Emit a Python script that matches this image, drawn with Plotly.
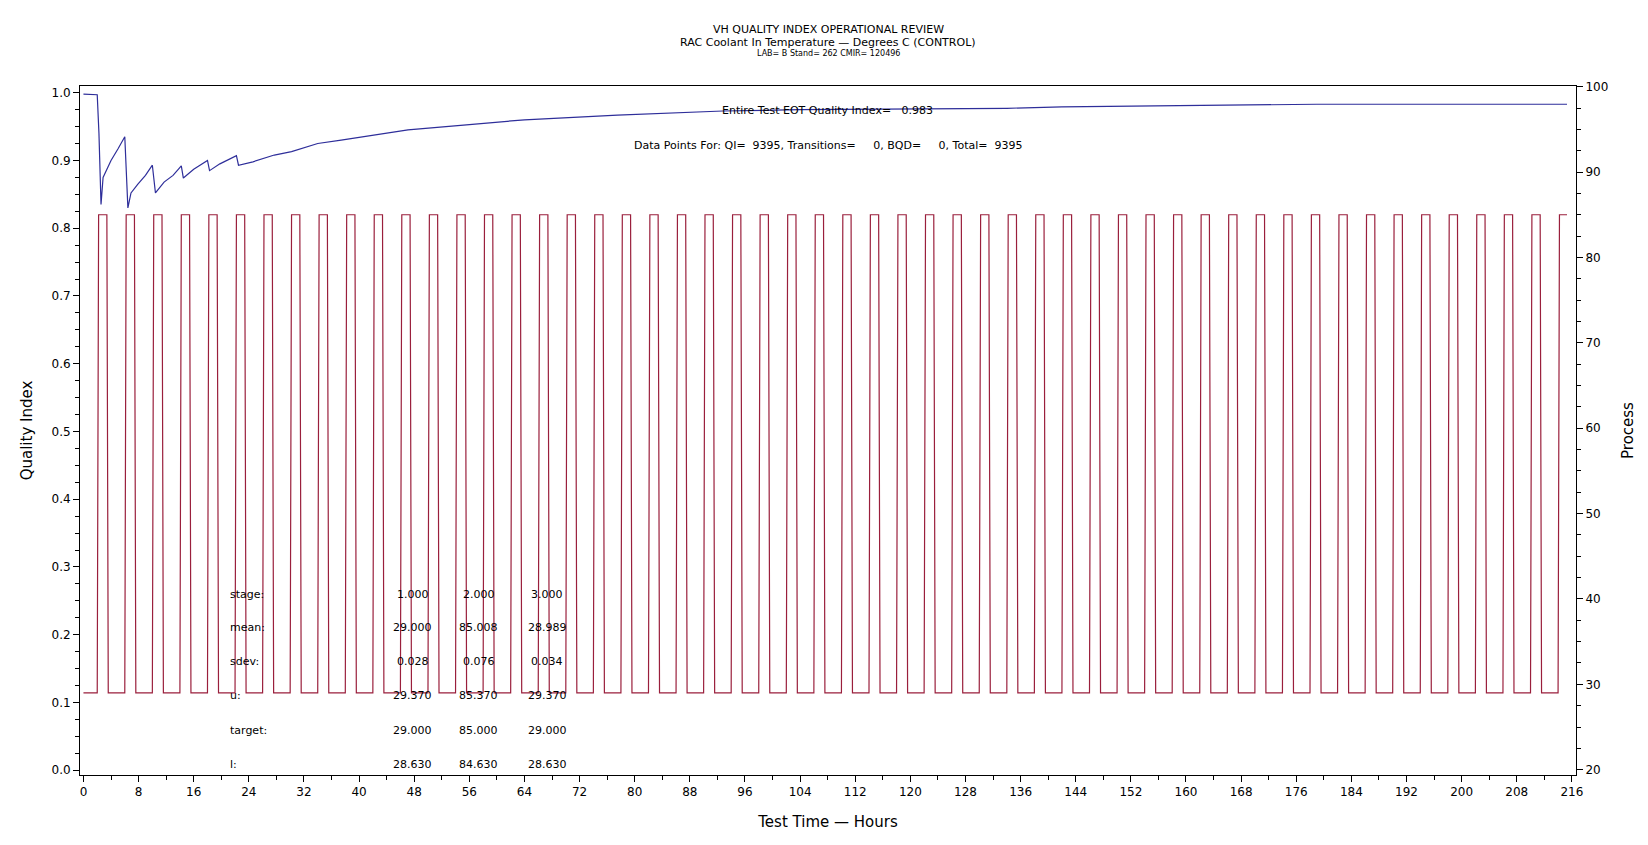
import plotly.graph_objects as go

# quality index curve (hours, QI)
qi_hours = [0.0, 0.45, 2.0, 2.25, 2.55, 2.85, 3.4, 4.0, 5.0, 6.0, 6.45, 6.9, 7.9, 9.0, 10.0,
            10.45, 11.7, 13.0, 14.2, 14.5, 16.0, 18.0, 18.3, 19.8, 22.2, 22.5, 24.6,
            27.7, 30.2, 34.0, 37.4, 42.3, 47.1, 56.0, 64.0, 77.5, 92.8, 104.0, 120.0,
            134.0, 142.0, 151.0, 164.0, 179.0, 195.0, 215.3]
qi_values = [0.998, 0.998, 0.997, 0.94, 0.835, 0.875, 0.888, 0.90, 0.917, 0.935, 0.83,
             0.852, 0.865, 0.878, 0.893, 0.852, 0.868, 0.878, 0.892, 0.874, 0.887, 0.900,
             0.885, 0.895, 0.907, 0.893, 0.898, 0.908, 0.913, 0.925, 0.930, 0.938, 0.945,
             0.953, 0.960, 0.967, 0.973, 0.975, 0.976, 0.977, 0.979, 0.980, 0.982, 0.983,
             0.983, 0.983]

# process (coolant temperature): stage-2 pulse start times, levels
pulse_starts = [2, 6, 10, 14, 18, 22, 26, 30, 34, 38, 42, 46, 50, 54, 58, 62, 66, 70,
                74, 78, 82, 86, 90, 94, 98, 102, 106, 110, 114, 118, 122, 126, 130, 134,
                138, 142, 146, 150, 154, 158, 162, 166, 170, 174, 178, 182, 186, 190,
                194, 198, 202, 206, 210, 214]
low_level = 29.0
high_level = 85.0
ramp = 0.2
hold = 1.2
test_end = 215.3

stage_rows = ["stage:", "mean:", "sdev:", "u:", "target:", "l:"]
stage_cols = [["1.000", "29.000", "0.028", "29.370", "29.000", "28.630"],
              ["2.000", "85.008", "0.076", "85.370", "85.000", "84.630"],
              ["3.000", "28.989", "0.034", "29.370", "29.000", "28.630"]]

px, py = [0.0], [low_level]
for s in pulse_starts:
    pts = [(s, low_level), (s + ramp, high_level), (s + ramp + hold, high_level),
           (s + 2 * ramp + hold, low_level)]
    for x, y in pts:
        if x <= test_end:
            px.append(x)
            py.append(y)
if px[-1] < test_end:
    px.append(test_end)
    py.append(py[-1])

font = "DejaVu Sans"
fig = go.Figure()
fig.add_trace(go.Scatter(x=px, y=py, yaxis="y2", mode="lines",
                         line=dict(color="#9a1f3c", width=1.2), showlegend=False))
fig.add_trace(go.Scatter(x=qi_hours, y=qi_values, mode="lines",
                         line=dict(color="#2e2e9a", width=1.2), showlegend=False))

ax_common = dict(showline=True, linecolor="black", linewidth=1, ticks="outside",
                 ticklen=6, tickcolor="black", showgrid=False, zeroline=False,
                 tickfont=dict(family=font, size=12, color="black"))
fig.update_layout(
    width=1648, height=845, plot_bgcolor="white", paper_bgcolor="white",
    margin=dict(l=72, r=80, t=78, b=78),
    font=dict(family=font, color="black"),
    xaxis=dict(range=[-0.5, 216.6], tickmode="linear", tick0=0, dtick=8, mirror=True,
               minor=dict(dtick=4, ticks="outside", ticklen=4, tickcolor="black"),
               title=dict(text="Test Time \u2014 Hours", font=dict(size=15), standoff=18),
               **ax_common),
    yaxis=dict(range=[-0.007, 1.0099], tickmode="linear", tick0=0, dtick=0.1,
               tickformat=".1f",
               minor=dict(dtick=0.025, ticks="outside", ticklen=4, tickcolor="black"),
               title=dict(text="Quality Index", font=dict(size=15)), **ax_common),
    yaxis2=dict(range=[19.38, 100.08], overlaying="y", side="right", tickmode="linear",
                tick0=20, dtick=10,
                minor=dict(dtick=2.5, ticks="outside", ticklen=4, tickcolor="black"),
                title=dict(text="Process", font=dict(size=15)), **ax_common),
)

fig.add_annotation(xref="paper", yref="paper", x=0.5, y=1.095, showarrow=False,
                   text="VH QUALITY INDEX OPERATIONAL REVIEW", font=dict(size=11))
fig.add_annotation(xref="paper", yref="paper", x=0.5, y=1.075, showarrow=False,
                   text="RAC Coolant In Temperature \u2014 Degrees C (CONTROL)",
                   font=dict(size=11))
fig.add_annotation(xref="paper", yref="paper", x=0.5, y=1.056, showarrow=False,
                   text="LAB= B Stand= 262 CMIR= 120496", font=dict(size=8))
fig.add_annotation(x=108, y=0.974, showarrow=False,
                   text="Entire Test EOT Quality Index=   0.983", font=dict(size=11))
fig.add_annotation(x=108, y=0.922, showarrow=False,
                   text="Data Points For: QI=  9395, Transitions=     0, BQD=     0, Total=  9395",
                   font=dict(size=11))
row_y = [0.26, 0.211, 0.161, 0.11, 0.059, 0.008]
for lbl, yv in zip(stage_rows, row_y):
    fig.add_annotation(x=21.0, y=yv, text=lbl, showarrow=False, xanchor="left",
                       font=dict(size=11))
for cx, col in zip([47.8, 57.4, 67.3], stage_cols):
    for val, yv in zip(col, row_y):
        fig.add_annotation(x=cx, y=yv, text=val, showarrow=False, font=dict(size=11))

fig.write_html("out.html")
